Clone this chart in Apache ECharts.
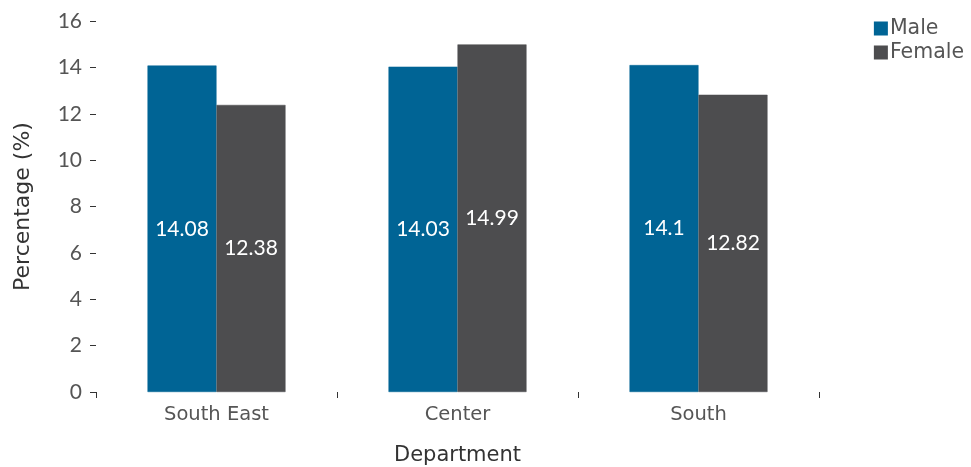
<!DOCTYPE html>
<html><head><meta charset="utf-8">
<script src="https://cdn.jsdelivr.net/npm/echarts@6/dist/echarts.min.js"></script>
<style>html,body{margin:0;padding:0;background:#fff}#c{width:971px;height:467px}</style>
</head><body><div id="c"></div>
<script>
const categories = ['South East', 'Center', 'South'];
const maleValues = [14.08, 14.03, 14.1];
const femaleValues = [12.38, 14.99, 12.82];
const yTicks = [0, 2, 4, 6, 8, 10, 12, 14, 16];

const NUM_FONT = 'Lato';
const WORD_FONT = 'DejaVu Sans';
const chart = echarts.init(document.getElementById('c'));
chart.setOption({
  animation: false,
  textStyle: { fontFamily: WORD_FONT },
  grid: { left: 96, right: 152, top: 21, bottom: 75, outerBoundsMode: 'none', containLabel: false },
  legend: {
    orient: 'vertical', right: 2, top: 13, itemWidth: 12, itemHeight: 12, itemGap: 3,
    icon: 'rect',
    textStyle: { fontFamily: WORD_FONT, fontSize: 20.5, color: '#555', padding: [0, 0, 0, -2] },
    data: ['Male', 'Female']
  },
  xAxis: {
    type: 'category', data: categories,
    name: 'Department', nameLocation: 'middle', nameGap: 53,
    nameTextStyle: { fontFamily: WORD_FONT, fontSize: 21, color: '#333' },
    axisLine: { show: false },
    axisTick: { show: true, length: 6, lineStyle: { color: '#333' } },
    axisLabel: { fontFamily: WORD_FONT, fontSize: 19.5, color: '#555', margin: 13 }
  },
  yAxis: {
    type: 'value', min: yTicks[0], max: yTicks[yTicks.length - 1], interval: 2,
    name: 'Percentage (%)', nameLocation: 'middle', nameGap: 62,
    nameTextStyle: { fontFamily: WORD_FONT, fontSize: 22, color: '#333' },
    axisLine: { show: false },
    axisTick: { show: true, length: 6, lineStyle: { color: '#333' } },
    splitLine: { show: false },
    axisLabel: { fontFamily: NUM_FONT, fontSize: 21, color: '#555', margin: 14 }
  },
  series: [
    { name: 'Male', type: 'bar', data: maleValues, barWidth: 69, barGap: '0%',
      itemStyle: { color: '#006495', borderColor: '#006495', borderWidth: 0.5 },
      label: { show: true, position: 'inside', color: '#fff', fontSize: 21, fontFamily: NUM_FONT } },
    { name: 'Female', type: 'bar', data: femaleValues, barWidth: 69,
      itemStyle: { color: '#4d4d4f', borderColor: '#4d4d4f', borderWidth: 0.5 },
      label: { show: true, position: 'inside', color: '#fff', fontSize: 21, fontFamily: NUM_FONT } }
  ]
});
</script></body></html>
